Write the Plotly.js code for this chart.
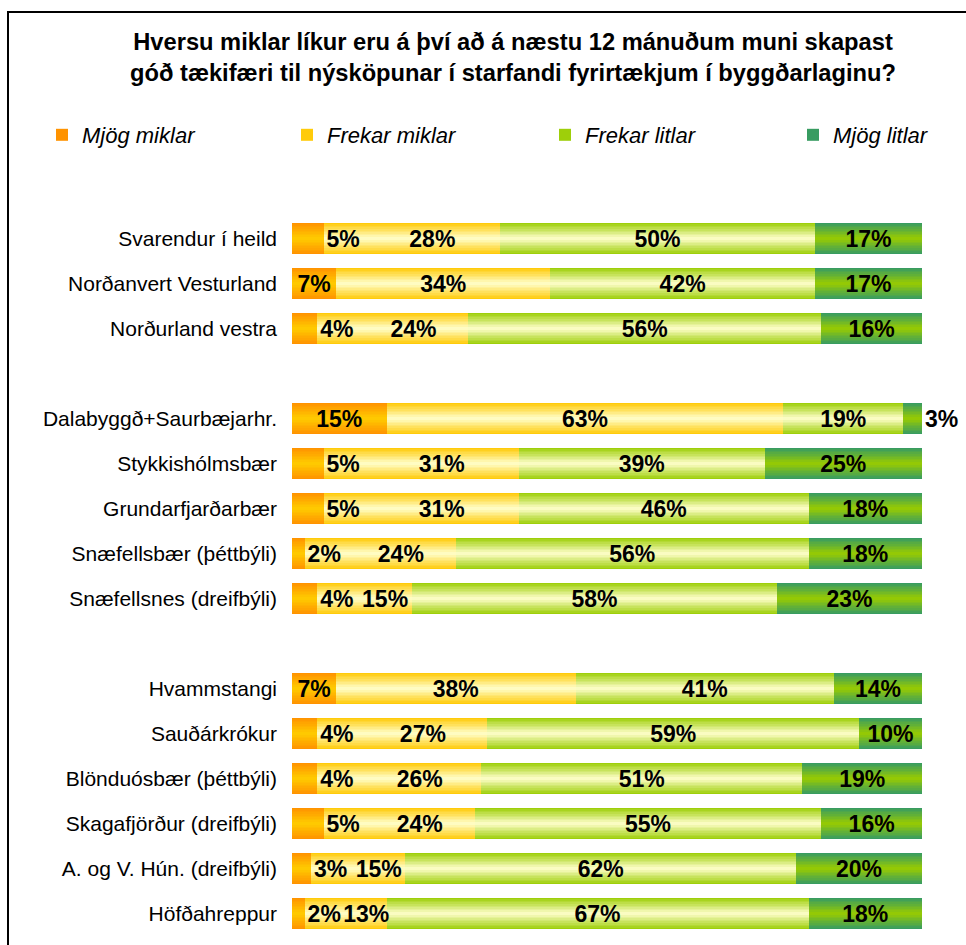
<!DOCTYPE html>
<html>
<head>
<meta charset="utf-8">
<script src="https://cdn.plot.ly/plotly-3.0.1.min.js"></script>
<style>html,body{margin:0;padding:0;background:#fff;}#chart{width:966px;height:945px;}</style>
</head>
<body>
<div id="chart"></div>
<script>
// ---- data ----
const categories = ['Svarendur í heild','Norðanvert Vesturland','Norðurland vestra',
  'Dalabyggð+Saurbæjarhr.','Stykkishólmsbær','Grundarfjarðarbær','Snæfellsbær (þéttbýli)','Snæfellsnes (dreifbýli)',
  'Hvammstangi','Sauðárkrókur','Blönduósbær (þéttbýli)','Skagafjörður (dreifbýli)','A. og V. Hún. (dreifbýli)','Höfðahreppur'];
const axisOrder = ['Svarendur í heild','Norðanvert Vesturland','Norðurland vestra',' ',
  'Dalabyggð+Saurbæjarhr.','Stykkishólmsbær','Grundarfjarðarbær','Snæfellsbær (þéttbýli)','Snæfellsnes (dreifbýli)','  ',
  'Hvammstangi','Sauðárkrókur','Blönduósbær (þéttbýli)','Skagafjörður (dreifbýli)','A. og V. Hún. (dreifbýli)','Höfðahreppur'];
const seriesNames = ['Mjög miklar','Frekar miklar','Frekar litlar','Mjög litlar'];
const mjogMiklar   = [5, 7, 4, 15, 5, 5, 2, 4, 7, 4, 4, 5, 3, 2];
const frekarMiklar = [28,34,24,63,31,31,24,15,38,27,26,24,15,13];
const frekarLitlar = [50,42,56,19,39,46,56,58,41,59,51,55,62,67];
const mjogLitlar   = [17,17,16, 3,25,18,18,23,14,10,19,16,20,18];
const titleText = 'Hversu miklar líkur eru á því að á næstu 12 mánuðum muni skapast<br>góð tækifæri til nýsköpunar í starfandi fyrirtækjum í byggðarlaginu?';

// ---- styling ----
const gradients = [['#FF9000','#FFCC00'],['#FFC800','#FFFFCC'],['#99CC00','#FFFFCC'],['#339966','#99CC00']]; // [edge, centre]
const FONT = 'Liberation Sans, Arial, sans-serif';
const BARW = 0.7, LAYERS = 10, LBL_SIZE = 23;
const legendNames = ['legend','legend2','legend3','legend4'];
const legendX = [42, 287, 545, 793];
const labelPos = ['auto','inside','inside','auto'];

const L=292, R=44, T=216, B=9, W=966, H=945;
const pw=W-L-R, ph=H-T-B;

function hex2rgb(h){return [parseInt(h.slice(1,3),16),parseInt(h.slice(3,5),16),parseInt(h.slice(5,7),16)];}
function lerp(a,b,t){const A=hex2rgb(a),B=hex2rgb(b);return 'rgb('+A.map((v,i)=>Math.round(v+(B[i]-v)*t)).join(',')+')';}
// approximate width (in axis % units) of a bold label such as "5%"
function labelWidthPct(v){const px=LBL_SIZE*(0.556*String(v).length+0.889);return px/pw*100;}

const series = [mjogMiklar, frekarMiklar, frekarLitlar, mjogLitlar];
const bases = series.map((s,si)=>s.map((v,i)=>{let b=0;for(let j=0;j<si;j++)b+=series[j][i];return b;}));

const traces = [];
series.forEach((vals,si)=>{
  for(let k=0;k<LAYERS;k++){
    const d = 1-(k+0.5)/LAYERS; // distance from centre (0) to edge (1)
    traces.push({
      type:'bar', orientation:'h', y:categories, x:vals, base:bases[si],
      width:BARW*(1-k/LAYERS),
      marker:{color:lerp(gradients[si][1],gradients[si][0],d), line:{width:0}},
      name:seriesNames[si], legend:legendNames[si], showlegend:k===0,
      hoverinfo:'skip'
    });
  }
});

// label layout: when a "Mjög miklar" label does not fit inside its segment it sits just
// to the right of it, and the "Frekar miklar" label is centred in the space that remains.
const padPct = 8/pw*100;
const lblBase = series.map((vals,si)=>vals.map((v,i)=>{
  if(si!==1) return bases[si][i];
  const o = mjogMiklar[i], w = labelWidthPct(o);
  return (o >= w + padPct) ? bases[si][i] : o + w + padPct;
}));
const lblLen = series.map((vals,si)=>vals.map((v,i)=>bases[si][i]+v-lblBase[si][i]));

const lblFont = {family:FONT,size:LBL_SIZE,color:'#000',weight:'bold'};
series.forEach((vals,si)=>{
  traces.push({
    type:'bar', orientation:'h', y:categories, x:lblLen[si], base:lblBase[si], width:BARW,
    marker:{color:'rgba(0,0,0,0)', line:{width:0}},
    text: vals.map(v=>v+'%'),
    textposition: labelPos[si],
    insidetextanchor:'middle', textangle:0, constraintext:'none', cliponaxis:false,
    textfont:lblFont, insidetextfont:lblFont, outsidetextfont:lblFont,
    showlegend:false, hoverinfo:'skip'
  });
});

const layout = {
  width:W, height:H, margin:{l:L,r:R,t:T,b:B,pad:0},
  paper_bgcolor:'#fff', plot_bgcolor:'rgba(0,0,0,0)',
  barmode:'overlay', bargap:0,
  font:{family:FONT,color:'#000'},
  title:{text:titleText, x:513/W, xref:'container', xanchor:'center', y:1-50/H, yref:'container', yanchor:'middle',
         font:{family:FONT,size:23.7,weight:'bold',color:'#000'}},
  showlegend:true,
  xaxis:{range:[0,100], visible:false, showgrid:false, zeroline:false, fixedrange:true},
  yaxis:{type:'category', categoryorder:'array', categoryarray:axisOrder, range:[axisOrder.length-0.5,-0.5],
         showgrid:false, zeroline:false, showline:false, ticks:'', ticklabelstandoff:14,
         tickfont:{family:FONT,size:21,color:'#000'}, fixedrange:true},
  shapes:[{type:'rect', xref:'paper', yref:'paper', x0:(8-L)/pw, x1:(W+20-L)/pw, y0:(H-T-B-(H+20-T))/ph, y1:(ph-(12-T))/ph,
           line:{color:'#000',width:2}, fillcolor:'rgba(0,0,0,0)', layer:'below'}]
};
legendNames.forEach((ln,i)=>{
  layout[ln] = {orientation:'h', xref:'container', yref:'container', x:legendX[i]/W, xanchor:'left', y:1-135/H, yanchor:'middle',
                font:{family:FONT,size:22,style:'italic',color:'#000'}, bgcolor:'rgba(0,0,0,0)'};
});
Plotly.newPlot('chart', traces, layout, {displayModeBar:false, staticPlot:true});
</script>
</body>
</html>
